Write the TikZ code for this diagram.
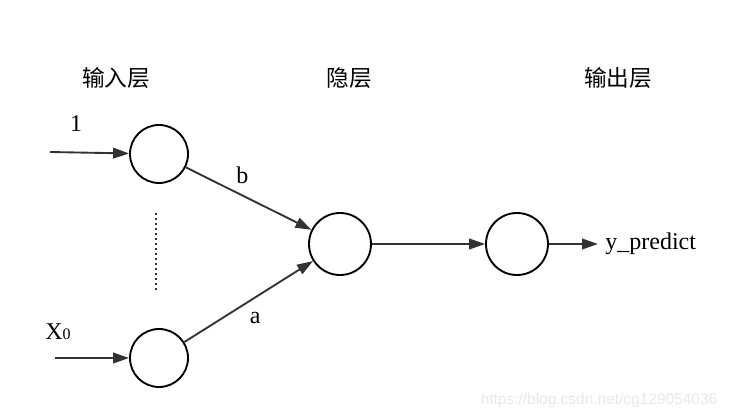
\documentclass[tikz,border=0pt]{standalone}
\usepackage{fontspec}
\setmainfont{Liberation Serif}
\newfontfamily\cjkfont{Noto Sans CJK SC}
\newfontfamily\markfont{Liberation Sans}
\usetikzlibrary{positioning, arrows.meta}
\definecolor{edgegray}{RGB}{51,51,51}

\begin{document}
\begin{tikzpicture}[x=0.75pt, y=-0.75pt, >={Triangle[length=12pt, width=8pt]},
            every node/.style={font=\fontsize{18}{20}\selectfont},
            neuron/.style={circle, draw=black, line width=1.4pt, minimum size=43.5pt, inner sep=0pt},
            bigneuron/.style={neuron, minimum size=46.5pt},
            link/.style={->, draw=edgegray, line width=1.4pt},
            layertitle/.style={font=\cjkfont\fontsize{17}{20}\selectfont}]
          \useasboundingbox (0,0) rectangle (729,420);
          % neurons
          \node[neuron] (in1) at (159,154) {};
          \node[neuron] (in2) at (159,358) {};
          \node[bigneuron] (hid) at (340,244) {};
          \node[bigneuron] (out) at (517,244) {};
          % free ends
          \coordinate (src1) at (50,152);
          \coordinate (src2) at (55,358);
          \coordinate (dst) at (598,244);
          \coordinate (dottop) at (156,213);
          \coordinate (dotbot) at (156,290);
          % titles and labels
          \node[layertitle] (tin) at (116,78) {输入层};
          \node[layertitle] (thid) at (349,78) {隐层};
          \node[layertitle] (tout) at (618,78) {输出层};
          \node (lone) at (76,124) {1};
          \node (lx) at (58,332) {X{\fontsize{12}{12}\selectfont 0}};
          \node[right=2pt of dst] (ypred) {y\_predict};
          % connectors
          \draw[link] (src1) -- (in1);
          \draw[link] (src2) -- (in2);
          \draw[link] (in1) -- node[pos=0.45, above=5pt] {b} (hid);
          \draw[link] (in2) -- node[pos=0.55, below=7pt] {a} (hid);
          \draw[link] (hid) -- (out);
          \draw[link] (out) -- (dst);
          \draw[edgegray, line width=1.5pt, dash pattern=on 1.5pt off 2.25pt] (dottop) -- (dotbot);
          \node[font=\markfont\fontsize{11.6}{12}\selectfont, text=gray!18] (mark) at (599,401) {https://blog.csdn.net/cg129054036};
        \end{tikzpicture}
\end{document}
